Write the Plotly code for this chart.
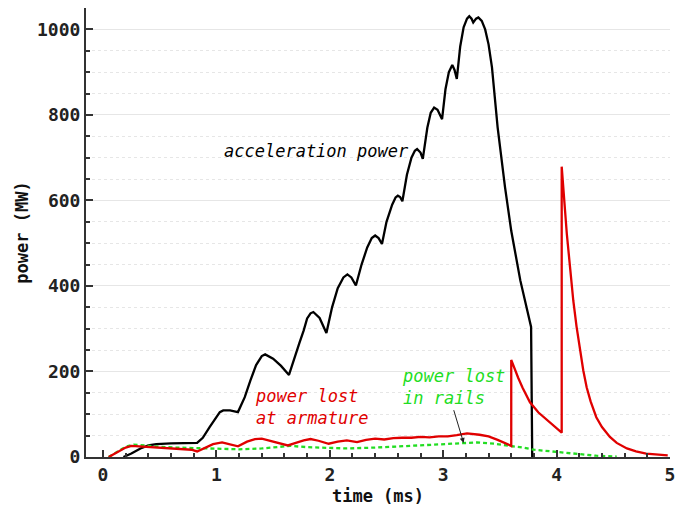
import plotly.graph_objects as go

# acceleration power (black)
acc_t = [0.18, 0.25, 0.33, 0.40, 0.47, 0.60, 0.83, 0.88, 0.94, 1.00, 1.03, 1.06, 1.12, 1.19,
         1.25, 1.30, 1.35, 1.40, 1.43, 1.50, 1.57, 1.64,
         1.69, 1.73, 1.77, 1.80, 1.83, 1.855, 1.91, 1.97,
         2.02, 2.07, 2.12, 2.155, 2.19, 2.23,
         2.28, 2.33, 2.37, 2.40, 2.43, 2.46,
         2.50, 2.55, 2.58, 2.60, 2.62, 2.64,
         2.68, 2.72, 2.75, 2.77, 2.80, 2.82,
         2.86, 2.89, 2.92, 2.95, 2.99,
         3.02, 3.05, 3.08, 3.10, 3.12,
         3.15, 3.18, 3.21, 3.23, 3.25, 3.265, 3.29, 3.31, 3.34, 3.37, 3.40, 3.43,
         3.48, 3.545, 3.60, 3.68, 3.775, 3.785]
acc_p = [0, 8, 20, 27, 30, 32, 33, 45, 70, 95, 105, 109, 109, 105,
         140, 179, 215, 236, 240, 230, 213, 192,
         235, 265, 296, 324, 336, 339, 325, 290,
         350, 395, 420, 427, 420, 401,
         450, 490, 512, 518, 512, 498,
         550, 590, 607, 611, 608, 598,
         660, 700, 716, 720, 712, 697,
         770, 805, 817, 812, 790,
         860, 900, 917, 905, 884,
         960, 1005, 1025, 1031, 1025, 1016, 1025, 1028, 1020, 1000, 965, 911,
         771, 631, 529, 413, 304, 0]

# power lost at armature (red)
arm_t = [0.05, 0.12, 0.20, 0.25, 0.30, 0.40, 0.50, 0.60, 0.70, 0.78, 0.83, 0.90, 0.97, 1.05,
         1.12, 1.19, 1.27, 1.34, 1.40, 1.47, 1.55, 1.63, 1.70, 1.77, 1.83, 1.90, 1.99, 2.07,
         2.15, 2.24, 2.32, 2.40, 2.48, 2.56, 2.64, 2.72, 2.80, 2.88, 2.96, 3.04, 3.12, 3.21,
         3.32, 3.40, 3.48, 3.55, 3.60, 3.60, 3.63, 3.66, 3.70, 3.765, 3.84, 3.91, 3.98, 4.045,
         4.045, 4.065, 4.09, 4.12, 4.147, 4.176, 4.206, 4.235, 4.265, 4.30, 4.35, 4.40, 4.47,
         4.53, 4.62, 4.70, 4.79, 4.88, 4.98]
arm_p = [0, 10, 22, 26, 25, 23, 22, 20, 18, 17, 13, 22, 30, 34,
         30, 25, 36, 42, 43, 38, 32, 27, 33, 39, 42, 38, 31, 36,
         39, 35, 40, 43, 41, 44, 45, 45, 47, 46, 48, 48, 51, 55,
         52, 48, 40, 32, 26, 227, 205, 186, 162, 128, 104, 88, 71, 57,
         679, 600, 522, 440, 366, 305, 249, 203, 163, 130, 93, 70, 47,
         33, 20, 13, 8, 6, 4]

# power lost in rails (green dashed)
rail_t = [0.05, 0.12, 0.20, 0.27, 0.35, 0.50, 0.65, 0.80, 1.00, 1.20, 1.40, 1.55, 1.65, 1.80,
          2.00, 2.15, 2.40, 2.60, 2.80, 3.00, 3.18, 3.30, 3.45, 3.60, 3.70, 3.80, 3.95, 4.10,
          4.21, 4.35, 4.53]
rail_p = [0, 12, 24, 29, 27, 24, 22, 21, 20, 18, 20, 24, 26, 23,
          21, 20, 22, 25, 28, 31, 33, 34, 31, 26, 22, 17, 13, 9,
          6, 3, 1]

FONT = "DejaVu Sans Mono"
AX = "#333333"

fig = go.Figure()
fig.add_trace(go.Scatter(x=acc_t, y=acc_p, mode="lines",
                         line=dict(color="black", width=2.3), showlegend=False))
fig.add_trace(go.Scatter(x=rail_t, y=rail_p, mode="lines",
                         line=dict(color="#22dd22", width=2.3, dash="4px,3px"), showlegend=False))
fig.add_trace(go.Scatter(x=arm_t, y=arm_p, mode="lines",
                         line=dict(color="#e00000", width=2.3), showlegend=False))

fig.add_annotation(x=1.887, y=716, text="acceleration power", showarrow=False,
                   xanchor="center", yanchor="middle",
                   font=dict(family=FONT, size=17, color="black", style="italic"))
fig.add_annotation(x=1.323, y=116, text="power lost<br>at armature", showarrow=False,
                   xanchor="left", yanchor="middle", align="left",
                   font=dict(family=FONT, size=17, color="#e00000", style="italic"))
fig.add_annotation(x=2.619, y=163, text="power lost<br>in rails", showarrow=False,
                   xanchor="left", yanchor="middle", align="left",
                   font=dict(family=FONT, size=17, color="#22dd22", style="italic"))
fig.add_annotation(x=3.18, y=33, ax=3.089, ay=113, axref="x", ayref="y", text="",
                   showarrow=True, arrowhead=2, arrowsize=1, arrowwidth=1, arrowcolor="#222222")

fig.update_layout(
    width=689, height=512,
    margin=dict(l=78, r=27, t=0, b=63, autoexpand=False),
    plot_bgcolor="white", paper_bgcolor="white",
    font=dict(family=FONT, color="#222222"),
)
fig.update_xaxes(
    range=[-0.15, 5.0], dtick=1, tick0=0, showgrid=False, zeroline=False, automargin=False,
    showline=True, linecolor=AX, linewidth=2,
    ticks="inside", ticklen=7, tickwidth=1.5, tickcolor=AX,
    minor=dict(dtick=0.2, tick0=0, ticks="inside", ticklen=4, tickcolor=AX, showgrid=False),
    tickfont=dict(family=FONT, size=18, weight="bold", color="#222222"),
    title=dict(text="time (ms)", font=dict(family=FONT, size=17, weight="bold", color="#111111"),
               standoff=7),
)
fig.update_yaxes(
    range=[0, 1050], dtick=200, tick0=0, zeroline=False, automargin=False,
    showgrid=True, gridcolor="#e6e6e6", gridwidth=1,
    showline=True, linecolor=AX, linewidth=2,
    ticks="inside", ticklen=7, tickwidth=1.5, tickcolor=AX,
    minor=dict(dtick=50, tick0=0, ticks="inside", ticklen=4, tickcolor=AX,
               showgrid=True, gridcolor="#e6e6e6", griddash="dot", gridwidth=1),
    tickfont=dict(family=FONT, size=18, weight="bold", color="#222222"),
    title=dict(text="power (MW)", font=dict(family=FONT, size=17, weight="bold", color="#111111"),
               standoff=4),
)

fig.write_html("out.html")
